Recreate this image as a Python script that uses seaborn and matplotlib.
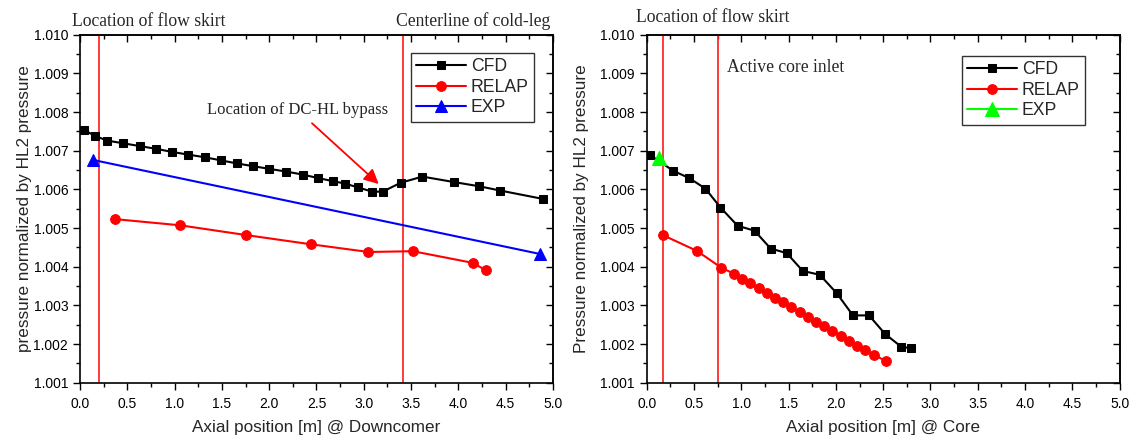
import matplotlib
matplotlib.use("Agg")
import matplotlib.pyplot as plt
import seaborn as sns
from matplotlib.ticker import MultipleLocator, FormatStrFormatter, NullFormatter

# Downcomer (left panel)
dc_cfd_x = [0.04, 0.16, 0.29, 0.46, 0.63, 0.80, 0.97, 1.14, 1.32, 1.49, 1.66, 1.83,
            2.00, 2.18, 2.36, 2.52, 2.68, 2.80, 2.94, 3.09, 3.20, 3.39, 3.62, 3.95,
            4.22, 4.44, 4.90]
dc_cfd_y = [1.00754, 1.00738, 1.00726, 1.00719, 1.00712, 1.00705, 1.00697, 1.00690,
            1.00683, 1.00675, 1.00667, 1.00660, 1.00653, 1.00646, 1.00638, 1.00629,
            1.00621, 1.00615, 1.00605, 1.00594, 1.00594, 1.00617, 1.00633, 1.00619,
            1.00608, 1.00597, 1.00575]
dc_relap_x = [0.37, 1.06, 1.75, 2.44, 3.05, 3.52, 4.15, 4.29]
dc_relap_y = [1.00523, 1.00507, 1.00482, 1.00458, 1.00438, 1.00440, 1.00410, 1.00391]
dc_exp_x = [0.14, 4.86]
dc_exp_y = [1.00676, 1.00433]

# Core (right panel)
core_cfd_x = [0.035, 0.28, 0.45, 0.62, 0.78, 0.96, 1.14, 1.31, 1.48, 1.65, 1.83,
              2.01, 2.18, 2.35, 2.52, 2.69, 2.79]
core_cfd_y = [1.00689, 1.00648, 1.00629, 1.00602, 1.00553, 1.00506, 1.00493, 1.00447,
              1.00435, 1.00389, 1.00379, 1.00331, 1.00274, 1.00274, 1.00226, 1.00193,
              1.00189]
core_relap_x = [0.176, 0.53, 0.79, 0.921, 1.009, 1.094, 1.182, 1.267, 1.355, 1.443,
                1.527, 1.616, 1.703, 1.788, 1.876, 1.96, 2.049, 2.137, 2.22, 2.31,
                2.40, 2.53]
core_relap_y = [1.00481, 1.00441, 1.00397, 1.00382, 1.00369, 1.00357, 1.00344, 1.00332,
                1.00320, 1.00308, 1.00295, 1.00283, 1.00270, 1.00258, 1.00246, 1.00234,
                1.00221, 1.00209, 1.00196, 1.00184, 1.00172, 1.00156]
core_exp_x = [0.13]
core_exp_y = [1.00682]

dc_marks = [0.20, 3.41]
core_marks = [0.176, 0.75]

sns.set_theme(style="white")
plt.rcParams['font.family'] = ['Liberation Sans', 'DejaVu Sans']
serif = 'Liberation Serif'

fig = plt.figure(figsize=(11.31, 4.38), dpi=100)
ax1 = fig.add_axes([0.0707, 0.1263, 0.4182, 0.7945])
ax2 = fig.add_axes([0.5718, 0.1263, 0.4182, 0.7945])


def set_locators(axis_x, axis_y):
    if axis_x is not None:
        axis_x.set_major_locator(MultipleLocator(0.5))
        axis_x.set_minor_locator(MultipleLocator(0.25))
    if axis_y is not None:
        axis_y.set_major_locator(MultipleLocator(0.001))
        axis_y.set_minor_locator(MultipleLocator(0.0005))


def style_axis(ax):
    ax.set_xlim(0, 5.0)
    ax.set_ylim(1.001, 1.010)
    set_locators(ax.xaxis, ax.yaxis)
    ax.xaxis.set_major_formatter(FormatStrFormatter('%.1f'))
    ax.yaxis.set_major_formatter(FormatStrFormatter('%.3f'))
    ax.tick_params(which='both', direction='out', bottom=True, left=True,
                   top=False, right=False, colors='black', labelsize=10)
    ax.tick_params(which='major', length=5, width=1)
    ax.tick_params(which='minor', length=3, width=1)
    ax.tick_params(axis='x', pad=5)
    # mirrored ticks pointing inward on top and right
    top = ax.secondary_xaxis('top')
    set_locators(top.xaxis, None)
    top.xaxis.set_major_formatter(NullFormatter())
    top.tick_params(which='both', direction='in', colors='black')
    top.tick_params(which='major', length=5, width=1)
    top.tick_params(which='minor', length=3, width=1)
    right = ax.secondary_yaxis('right')
    set_locators(None, right.yaxis)
    right.yaxis.set_major_formatter(NullFormatter())
    right.tick_params(which='both', direction='in', colors='black')
    right.tick_params(which='major', length=5, width=1)
    right.tick_params(which='minor', length=3, width=1)
    for s in ax.spines.values():
        s.set_color('black')
        s.set_linewidth(1.2)


legend_kw = dict(loc='upper right', borderaxespad=0, fontsize=12.7, fancybox=False,
                 edgecolor='black', handlelength=2.8, borderpad=0.3,
                 labelspacing=0.2, handletextpad=0.3)

# left panel
for xv in dc_marks:
    ax1.axvline(xv, color='#ff2a2a', lw=1.3)
sns.lineplot(x=dc_cfd_x, y=dc_cfd_y, ax=ax1, color='black', marker='s', markersize=6,
             markeredgecolor='black', lw=1.5, sort=False, label='CFD')
sns.lineplot(x=dc_relap_x, y=dc_relap_y, ax=ax1, color='red', marker='o', markersize=7,
             markeredgecolor='red', lw=1.5, sort=False, label='RELAP')
sns.lineplot(x=dc_exp_x, y=dc_exp_y, ax=ax1, color='blue', marker='^', markersize=8,
             markeredgecolor='blue', lw=1.5, sort=False, label='EXP')
style_axis(ax1)
ax1.set_xlabel('Axial position [m] @ Downcomer', fontsize=12.3, labelpad=7)
ax1.set_ylabel('pressure normalized by HL2 pressure', fontsize=12.3, labelpad=1)
ax1.annotate('Location of DC-HL bypass', xy=(3.18, 1.00609), xytext=(2.30, 1.00805),
             ha='center', va='center', fontsize=12, family=serif,
             arrowprops=dict(arrowstyle='-|>', color='red', lw=1.3, mutation_scale=22))
fig.text(0.064, 0.950, 'Location of flow skirt', fontsize=12.7, family=serif, va='center')
fig.text(0.487, 0.952, 'Centerline of cold-leg', fontsize=12.7, family=serif,
         va='center', ha='right')
leg1 = ax1.legend(bbox_to_anchor=(0.96, 0.947), **legend_kw)
leg1.get_frame().set_linewidth(1.0)

# right panel
for xv in core_marks:
    ax2.axvline(xv, color='#ff2a2a', lw=1.3)
sns.lineplot(x=core_cfd_x, y=core_cfd_y, ax=ax2, color='black', marker='s', markersize=6,
             markeredgecolor='black', lw=1.5, sort=False, label='CFD')
sns.lineplot(x=core_relap_x, y=core_relap_y, ax=ax2, color='red', marker='o', markersize=7,
             markeredgecolor='red', lw=1.5, sort=False, label='RELAP')
sns.lineplot(x=core_exp_x, y=core_exp_y, ax=ax2, color='#00ff00', marker='^',
             markersize=10, markeredgecolor='#00ff00', lw=1.5, sort=False, label='EXP')
style_axis(ax2)
ax2.set_xlabel('Axial position [m] @ Core', fontsize=12.3, labelpad=7)
ax2.set_ylabel('Pressure normalized by HL2 pressure', fontsize=12.3, labelpad=8)
ax2.text(0.85, 1.00914, 'Active core inlet', fontsize=12.7, family=serif, va='center')
fig.text(0.562, 0.960, 'Location of flow skirt', fontsize=12.7, family=serif, va='center')
leg2 = ax2.legend(bbox_to_anchor=(0.927, 0.939), **legend_kw)
leg2.get_frame().set_linewidth(1.0)

fig.savefig('out.png', dpi=100)
